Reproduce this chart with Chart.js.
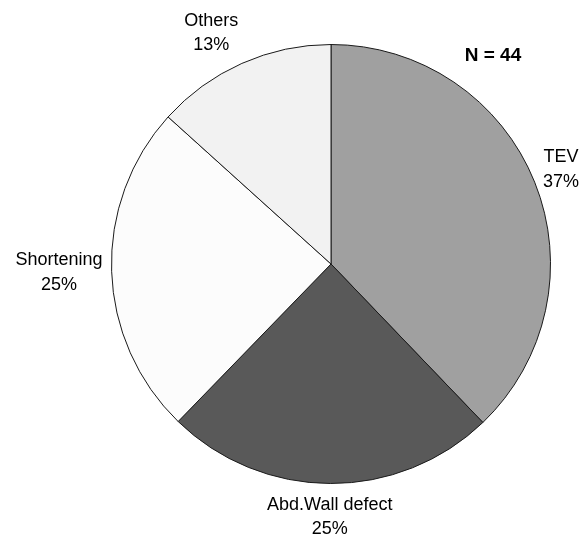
<!DOCTYPE html>
<html lang="en">
<head>
    <meta charset="UTF-8">
    <title>Pie chart</title>
    <script src="https://cdn.jsdelivr.net/npm/chart.js"></script>
    <style>
        body { margin: 0; background: #fff; }
    </style>
</head>
<body>
    <canvas id="pieChart" width="587" height="541"></canvas>

    <script>
        const categories = ['TEV', 'Abd.Wall defect', 'Shortening', 'Others'];
        const sliceValues = [37.8, 24.4, 24.4, 13.3];
        const percentLabels = ['37%', '25%', '25%', '13%'];
        const sliceColors = ['#a0a0a0', '#595959', '#fcfcfc', '#f2f2f2'];
        const totalN = 44;

        // Plugin para las etiquetas fuera de cada sector
        const outsideLabels = {
            id: 'outsideLabels',
            afterDraw(chart) {
                const ctx = chart.ctx;
                const meta = chart.getDatasetMeta(0);
                const lineH = 24.5;
                const gap = 9;
                ctx.save();
                ctx.font = '18px "Liberation Sans", Arial, sans-serif';
                ctx.fillStyle = '#000';
                ctx.textAlign = 'center';
                ctx.textBaseline = 'middle';
                meta.data.forEach((arc, i) => {
                    const mid = (arc.startAngle + arc.endAngle) / 2;
                    const lines = [categories[i], percentLabels[i]];
                    const w = Math.max(...lines.map(t => ctx.measureText(t).width));
                    const h = lines.length * lineH;
                    const cos = Math.cos(mid), sin = Math.sin(mid);
                    const sx = Math.max(-1, Math.min(1, cos * 2.5));
                    const px = arc.x + cos * (arc.outerRadius + gap);
                    const py = arc.y + sin * (arc.outerRadius + gap);
                    const cx = px + sx * w / 2;
                    const cy = py + sin * h / 2;
                    lines.forEach((t, j) => {
                        ctx.fillText(t, cx, cy - h / 2 + lineH / 2 + j * lineH);
                    });
                });
                // Texto N
                const area = chart.chartArea;
                ctx.font = 'bold 19px "Liberation Sans", Arial, sans-serif';
                ctx.fillText('N = ' + totalN, area.right - 58, area.top + 12);
                ctx.restore();
            }
        };

        const ctx = document.getElementById('pieChart').getContext('2d');
        const pieChart = new Chart(ctx, {
            type: 'pie',
            data: {
                labels: categories,
                datasets: [{
                    data: sliceValues,
                    backgroundColor: sliceColors,
                    borderColor: '#1a1a1a',
                    borderWidth: 1
                }]
            },
            options: {
                responsive: false,
                animation: false,
                layout: {
                    padding: { left: 111, right: 36, top: 44, bottom: 57 }
                },
                plugins: {
                    legend: { display: false },
                    tooltip: { enabled: false }
                }
            },
            plugins: [outsideLabels]
        });
    </script>
</body>
</html>
